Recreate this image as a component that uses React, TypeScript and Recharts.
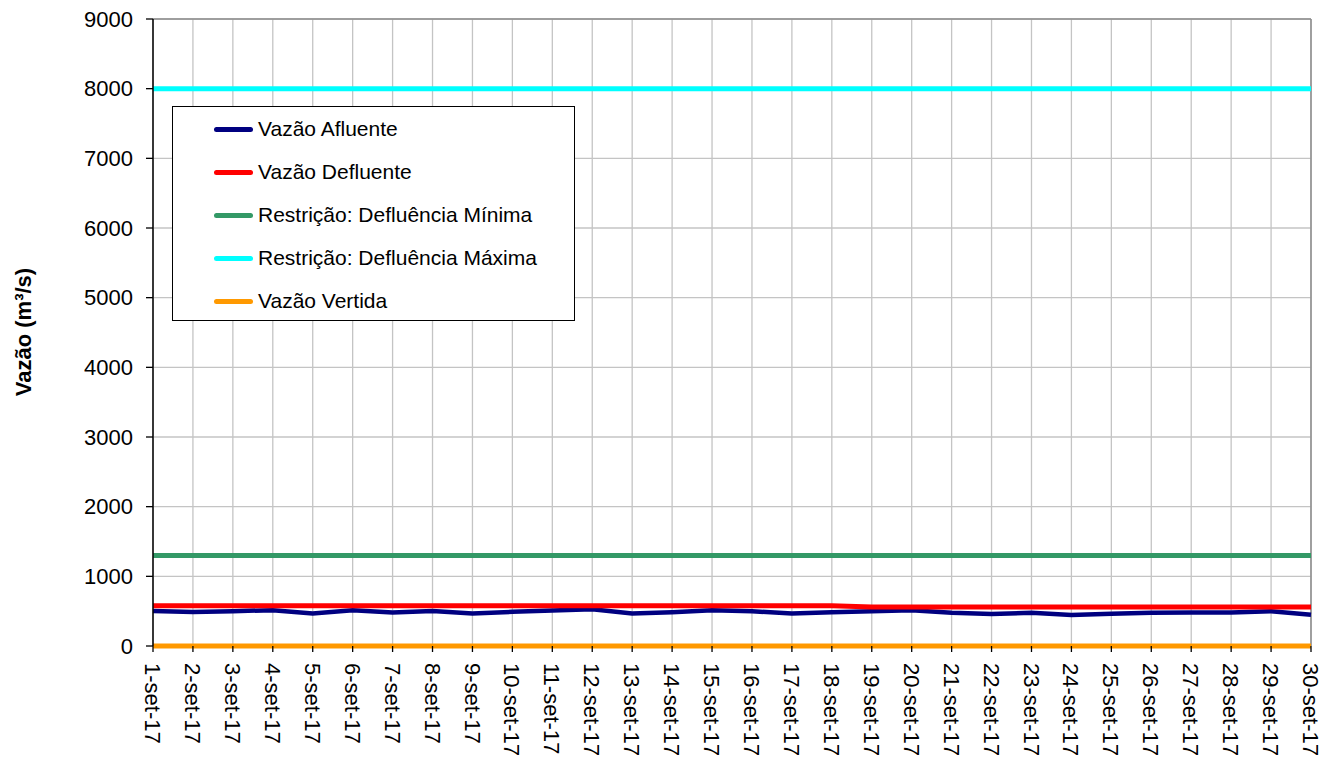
import React from "react";
import {
  LineChart,
  Line,
  XAxis,
  YAxis,
  CartesianGrid,
  ReferenceLine,
  Label,
} from "recharts";

const categories = [
  "1-set-17", "2-set-17", "3-set-17", "4-set-17", "5-set-17", "6-set-17",
  "7-set-17", "8-set-17", "9-set-17", "10-set-17", "11-set-17", "12-set-17",
  "13-set-17", "14-set-17", "15-set-17", "16-set-17", "17-set-17", "18-set-17",
  "19-set-17", "20-set-17", "21-set-17", "22-set-17", "23-set-17", "24-set-17",
  "25-set-17", "26-set-17", "27-set-17", "28-set-17", "29-set-17", "30-set-17",
];

const vazaoAfluente = [
  502, 488, 500, 514, 466, 514, 481, 504, 466, 490, 509, 528, 466, 485, 514,
  500, 466, 486, 500, 512, 478, 458, 478, 444, 464, 478, 480, 480, 500, 450,
];
const vazaoDefluente = [
  576, 576, 576, 576, 576, 576, 576, 576, 576, 576, 576, 576, 576, 576, 576,
  576, 576, 576, 561, 561, 561, 561, 561, 561, 561, 561, 561, 561, 561, 561,
];
const defluenciaMinima = [
  1300, 1300, 1300, 1300, 1300, 1300, 1300, 1300, 1300, 1300, 1300, 1300, 1300, 1300, 1300,
  1300, 1300, 1300, 1300, 1300, 1300, 1300, 1300, 1300, 1300, 1300, 1300, 1300, 1300, 1300,
];
const defluenciaMaxima = [
  8000, 8000, 8000, 8000, 8000, 8000, 8000, 8000, 8000, 8000, 8000, 8000, 8000, 8000, 8000,
  8000, 8000, 8000, 8000, 8000, 8000, 8000, 8000, 8000, 8000, 8000, 8000, 8000, 8000, 8000,
];
const vazaoVertida = [
  0, 0, 0, 0, 0, 0, 0, 0, 0, 0, 0, 0, 0, 0, 0,
  0, 0, 0, 0, 0, 0, 0, 0, 0, 0, 0, 0, 0, 0, 0,
];

const yTicks = [0, 1000, 2000, 3000, 4000, 5000, 6000, 7000, 8000, 9000];

const seriesNames = [
  "Vazão Afluente",
  "Vazão Defluente",
  "Restrição: Defluência Mínima",
  "Restrição: Defluência Máxima",
  "Vazão Vertida",
];
const seriesKeys = ["afl", "defl", "min", "max", "vert"];
const seriesColors = ["#000080", "#ff0000", "#339966", "#00ffff", "#ff9900"];
const seriesWidths = [4.5, 5, 5, 5, 5];

const data = categories.map((c, i) => ({
  day: c,
  afl: vazaoAfluente[i],
  defl: vazaoDefluente[i],
  min: defluenciaMinima[i],
  max: defluenciaMaxima[i],
  vert: vazaoVertida[i],
}));

const FONT = "'Liberation Sans', Arial, sans-serif";

const XTick = (props: any) => {
  const { x, payload } = props;
  const y0 = 646;
  return (
    <text
      x={0}
      y={0}
      transform={`translate(${x}, ${y0}) rotate(90)`}
      textAnchor="start"
      dx={9}
      dy="0.36em"
      fontSize={22}
      fontFamily={FONT}
      fill="#000"
    >
      {payload.value}
    </text>
  );
};

const YLabel = () => {
  const cy = 324;
  const cx = 15;
  return (
    <text
      x={cx}
      y={cy}
      transform={`rotate(-90, ${cx}, ${cy})`}
      textAnchor="middle"
      dominantBaseline="central"
      fontSize={22}
      fontWeight="bold"
      fontFamily={FONT}
      fill="#000"
    >
      Vazão (m³/s)
    </text>
  );
};

export default function App() {
  return (
    <div style={{ position: "relative", width: 1320, height: 751, fontFamily: FONT }}>
      <LineChart
        width={1320}
        height={751}
        data={data}
        margin={{ top: 11, right: 17, bottom: 0, left: 0 }}
      >
        <CartesianGrid stroke="#c4c4c4" strokeWidth={1.3} />
        <XAxis
          dataKey="day"
          type="category"
          interval={0}
          tick={<XTick />}
          tickSize={6}
          height={113}
          tickLine={{ stroke: "#000", strokeWidth: 1.3 }}
          axisLine={false}
        />
        <YAxis
          domain={[0, 9000]}
          ticks={yTicks}
          interval={0}
          width={145}
          tickSize={7}
          tickMargin={13}
          tick={{ fontSize: 22, fill: "#000", fontFamily: FONT }}
          tickLine={{ stroke: "#000", strokeWidth: 1.3 }}
          axisLine={{ stroke: "#000", strokeWidth: 1.5 }}
        >
          <Label content={<YLabel />} />
        </YAxis>
        <ReferenceLine y={9000} stroke="#8c8c8c" strokeWidth={1.5} />
        <ReferenceLine x="30-set-17" stroke="#8c8c8c" strokeWidth={1.5} />
        {seriesKeys.map((k, i) => (
          <Line
            key={k}
            type="linear"
            dataKey={k}
            name={seriesNames[i]}
            stroke={seriesColors[i]}
            strokeWidth={seriesWidths[i]}
            dot={false}
            activeDot={false}
            isAnimationActive={false}
          />
        ))}
      </LineChart>
      <div
        style={{
          position: "absolute",
          left: 164,
          top: 98,
          width: 401,
          height: 213,
          border: "1px solid #000",
          background: "#fff",
          boxSizing: "content-box",
        }}
      >
        {seriesNames.map((n, i) => (
          <div
            key={n}
            style={{
              position: "absolute",
              left: 0,
              top: 22 + i * 43 - 15,
              height: 30,
              display: "flex",
              alignItems: "center",
              whiteSpace: "nowrap",
            }}
          >
            <div
              style={{
                marginLeft: 41,
                width: 39,
                height: 5,
                borderRadius: 3,
                background: seriesColors[i],
              }}
            />
            <span
              style={{
                marginLeft: 5,
                fontSize: 21,
                fontFamily: FONT,
                color: "#000",
                lineHeight: "30px",
              }}
            >
              {n}
            </span>
          </div>
        ))}
      </div>
    </div>
  );
}
